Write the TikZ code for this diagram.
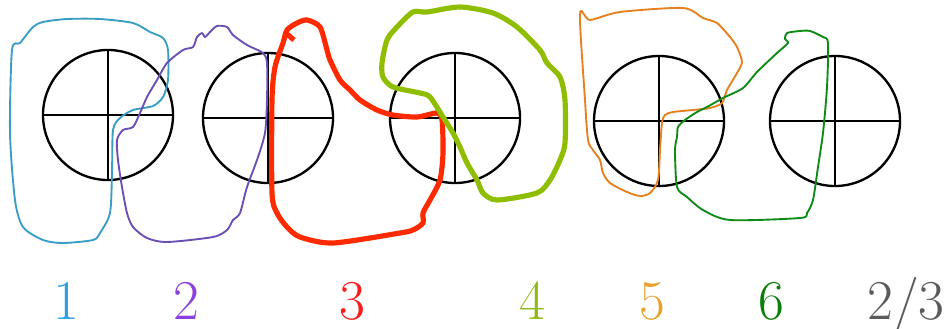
\documentclass[tikz,border=0pt]{standalone}
\usepackage{xcolor}
\usepackage{tikz}

\definecolor{loopone}{HTML}{3A9EC4}
\definecolor{looptwo}{HTML}{6B4FB4}
\definecolor{loopthree}{HTML}{FF2A00}
\definecolor{loopfour}{HTML}{8FBE00}
\definecolor{loopfive}{HTML}{E8801F}
\definecolor{loopsix}{HTML}{0E8A17}
\definecolor{numone}{HTML}{2D9FE3}
\definecolor{numtwo}{HTML}{8C3FDD}
\definecolor{numthree}{HTML}{FF1A1A}
\definecolor{numfour}{HTML}{8DBA10}
\definecolor{numfive}{HTML}{E8A22A}
\definecolor{numsix}{HTML}{0A7F0A}
\definecolor{numfrac}{HTML}{5A5A5A}

\begin{document}
\begin{tikzpicture}[
  x=0.03cm, y=-0.03cm,
  wheel/.style={circle, draw=black, line width=2pt, minimum size=3.9cm, inner sep=0pt},
  spoke/.style={line width=2pt},
  trace/.style={line width=1.6pt, line join=round},
  tracebold/.style={line width=4.4pt, line join=round},
  num/.style={anchor=base, inner sep=0pt, text depth=0pt, font=\fontsize{48}{48}\selectfont}
]
\useasboundingbox (0,0) rectangle (951,328);
\node[wheel] (w1) at (108,115) {};
\node[wheel] (w2) at (268,118) {};
\node[wheel] (w3) at (455,118) {};
\node[wheel] (w4) at (659,121) {};
\node[wheel] (w5) at (835,121) {};
\foreach \w in {w1,w2,w3,w4,w5} \draw[spoke] (\w.north) -- (\w.south) (\w.west) -- (\w.east);

% hand-drawn loops
\draw[trace, loopone] plot[smooth cycle, tension=0.45] coordinates {
  (12,50) (10,133) (15,200) (23,227) (43,240) (63,243) (93,240) (100,233)
  (110,213) (112,173) (113,130) (120,118) (133,110) (153,106) (163,97)
  (168,80) (168,50) (163,38) (150,32) (133,23) (100,19) (67,19) (43,22)
  (33,27) (20,43)};
\draw[trace, looptwo] plot[smooth cycle, tension=0.45] coordinates {
  (117,140) (123,130) (133,127) (140,113) (147,97) (157,80) (167,63)
  (183,50) (193,47) (197,37) (202,33) (205,37) (210,32) (217,26) (227,27)
  (233,35) (247,45) (263,53) (267,63) (267,100) (265,133) (257,160)
  (247,187) (240,213) (233,220) (227,230) (213,237) (167,242) (147,238)
  (133,227) (127,213) (122,187) (118,160)};
\draw[tracebold, loopthree] plot[smooth cycle, tension=0.45] coordinates {
  (307,20) (320,27) (327,50) (330,60) (340,80) (350,90) (360,100) (377,110)
  (393,115) (417,117) (437,113) (442,120) (443,153) (440,180) (430,200)
  (423,213) (423,223) (413,230) (400,233) (333,243) (300,237) (287,227)
  (277,213) (272,193) (272,100) (275,67) (283,43) (287,30) (297,23)};
\draw[tracebold, loopthree] (287,34) -- (294,40);
\draw[tracebold, loopfour] plot[smooth cycle, tension=0.45] coordinates {
  (413,12) (427,12) (460,7) (493,13) (517,27) (540,50) (547,63) (560,77)
  (565,100) (565,143) (560,160) (550,180) (537,193) (497,200) (483,193)
  (477,180) (467,163) (460,147) (453,133) (443,117) (430,97) (420,93)
  (393,87) (383,77) (382,63) (387,40) (397,27)};
\draw[trace, loopfive] plot[smooth cycle, tension=0.45] coordinates {
  (580,14) (590,20) (620,12) (683,8) (703,18) (717,23) (730,37) (737,47)
  (742,62) (737,73) (727,90) (722,103) (710,108) (693,110) (673,112)
  (665,115) (662,123) (660,150) (658,180) (650,193) (640,196) (627,192)
  (610,183) (603,173) (600,160) (593,150) (588,140) (585,100)};
\draw[trace, loopsix] plot[smooth cycle, tension=0.45] coordinates {
  (787,33) (800,31) (810,31) (823,37) (828,43) (827,87) (823,133)
  (818,167) (813,200) (807,213) (800,218) (730,220) (703,210) (687,197)
  (677,187) (675,150) (677,137) (678,127) (685,120) (697,112) (707,107)
  (723,98) (743,88) (757,72) (777,53) (788,43) (785,39)};

% labels
\node[num, numone] (n1) at (66,319) {1};
\node[num, numtwo] (n2) at (186,319) {2};
\node[num, numthree] (n3) at (352,319) {3};
\node[num, numfour] (n4) at (532,319) {4};
\node[num, numfive] (n5) at (652,319) {5};
\node[num, numsix] (n6) at (771,319) {6};
\node[num, numfrac] (n7) at (906,319) {2/3};
\end{tikzpicture}
\end{document}
